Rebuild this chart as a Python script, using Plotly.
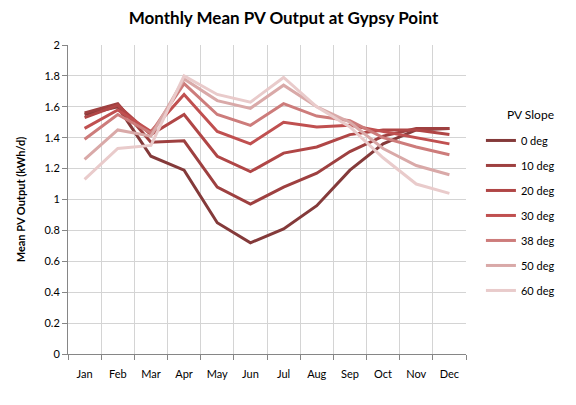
"""
Monthly mean PV output at Gypsy Point, by panel slope.
"""
import plotly.graph_objs as go

MONTHS = ["Jan", "Feb", "Mar", "Apr", "May", "Jun",
          "Jul", "Aug", "Sep", "Oct", "Nov", "Dec"]

# mean PV output (kWh/d)
slope_0 = [1.55, 1.60, 1.28, 1.19, 0.85, 0.72, 0.81, 0.96, 1.19, 1.36, 1.45, 1.46]
slope_10 = [1.56, 1.62, 1.37, 1.38, 1.08, 0.97, 1.08, 1.17, 1.31, 1.41, 1.46, 1.46]
slope_20 = [1.53, 1.61, 1.42, 1.55, 1.28, 1.18, 1.30, 1.34, 1.42, 1.45, 1.45, 1.42]
slope_30 = [1.46, 1.58, 1.44, 1.68, 1.44, 1.36, 1.50, 1.47, 1.48, 1.44, 1.40, 1.36]
slope_38 = [1.39, 1.55, 1.43, 1.75, 1.55, 1.48, 1.62, 1.54, 1.51, 1.40, 1.34, 1.29]
slope_50 = [1.26, 1.45, 1.41, 1.78, 1.64, 1.59, 1.74, 1.60, 1.50, 1.33, 1.22, 1.16]
slope_60 = [1.13, 1.33, 1.35, 1.80, 1.68, 1.63, 1.79, 1.60, 1.47, 1.27, 1.10, 1.04]

SERIES = [
    ("0 deg", slope_0, "#843A3A"),
    ("10 deg", slope_10, "#9E4040"),
    ("20 deg", slope_20, "#B04646"),
    ("30 deg", slope_30, "#C05050"),
    ("38 deg", slope_38, "#CD7C7B"),
    ("50 deg", slope_50, "#D9A9A8"),
    ("60 deg", slope_60, "#E9CBCB"),
]

FONT = "Lato, Open Sans, sans-serif"

fig = go.Figure()
for name, vals, color in SERIES:
    fig.add_trace(go.Scatter(
        x=MONTHS,
        y=vals,
        name=name,
        mode="lines",
        legendgroup=name,
        line=dict(color=color, width=3),
    ))

# legend heading drawn separately so it sits a little higher than plotly's own
fig.add_annotation(
    text="PV Slope", xref="paper", yref="paper",
    x=1.163, y=0.775, xanchor="center", yanchor="middle",
    showarrow=False, font=dict(family=FONT, size=12, color="#000000"),
)

# page body has an 8px margin, so the figure is 8px smaller than the window
fig.update_layout(
    width=568,
    height=397,
    margin=dict(l=60, r=110, t=37, b=51),
    paper_bgcolor="white",
    plot_bgcolor="white",
    font=dict(family=FONT, size=11, color="#000000"),
    title=dict(
        text="<b>Monthly Mean PV Output at Gypsy Point</b>",
        x=0.485, xanchor="center", y=0.975, yanchor="middle",
        font=dict(family=FONT, size=17, color="#000000"),
    ),
    showlegend=True,
    legend=dict(
        x=1.0375, xanchor="left", y=0.738, yanchor="top",
        font=dict(family=FONT, size=11),
        tracegroupgap=6,
        bgcolor="rgba(0,0,0,0)",
    ),
    xaxis=dict(
        type="category",
        range=[-0.5, 11.5],
        tickson="boundaries",
        ticks="outside",
        ticklen=5,
        tickcolor="#868686",
        ticklabelstandoff=10,
        showline=True,
        linecolor="#868686",
        linewidth=1,
        showgrid=True,
        gridcolor="#D4D4D4",
        gridwidth=1,
        automargin=False,
    ),
    yaxis=dict(
        range=[0, 2],
        dtick=0.2,
        tick0=0,
        ticks="outside",
        ticklen=5,
        tickcolor="#868686",
        showline=True,
        linecolor="#868686",
        linewidth=1,
        showgrid=True,
        gridcolor="#D4D4D4",
        zeroline=False,
        automargin=False,
        title=dict(text="<b>Mean PV Output (kWh/d)</b>",
                   font=dict(family=FONT, size=11), standoff=16),
    ),
)

fig.write_html("out.html")
